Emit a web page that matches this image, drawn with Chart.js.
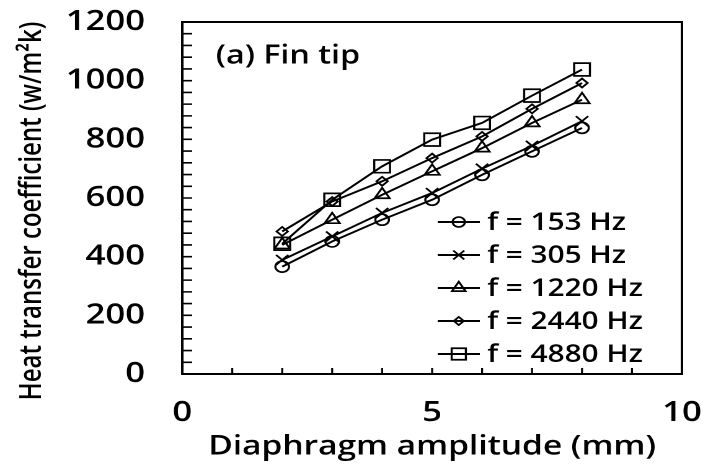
<!DOCTYPE html>
<html>
<head>
<meta charset="utf-8">
<script src="https://cdn.jsdelivr.net/npm/chart.js@4.4.0/dist/chart.umd.min.js"></script>
<style>
  html, body { margin: 0; padding: 0; background: #fff; overflow: hidden; }
  /* the figure is laid out narrow and widened horizontally */
  #wrap { width: 567px; height: 470px; transform: scaleX(1.2399); transform-origin: 0 0; }
</style>
</head>
<body>
<div id="wrap"><canvas id="c" width="567" height="470"></canvas></div>
<script>
// Diaphragm amplitude (mm)
const amplitudes = [2, 3, 4, 5, 6, 7, 8];

// Heat transfer coefficient at the fin tip (W/m²K), one list per driving frequency
const h153  = [366, 452, 526, 594, 679, 759, 839];
const h305  = [389, 469, 549, 617, 700, 778, 862];
const h1220 = [440, 526, 611, 691, 770, 856, 935];
const h2440 = [486, 588, 657, 736, 810, 904, 992];
const h4880 = [444, 594, 708, 799, 856, 949, 1038];

const seriesLabels = ['f = 153 Hz', 'f = 305 Hz', 'f = 1220 Hz', 'f = 2440 Hz', 'f = 4880 Hz'];
const seriesValues = [h153, h305, h1220, h2440, h4880];
const markerStyles = ['circle', 'crossRot', 'triangle', 'rectRot', 'rect'];
const markerSizes  = [5.5, 7, 7, 4.5, 9];

const xTickLabels = [0, 5, 10];
const yTickLabels = [0, 200, 400, 600, 800, 1000, 1200];

const FONT = '"Open Sans", "DejaVu Sans", sans-serif';

const datasets = seriesValues.map((vals, i) => ({
  label: seriesLabels[i],
  data: amplitudes.map((a, k) => ({ x: a, y: vals[k] })),
  borderColor: '#000',
  borderWidth: 1.9,
  pointStyle: markerStyles[i],
  pointRadius: markerSizes[i],
  pointBorderWidth: 1.7,
  pointBorderColor: '#000',
  pointBackgroundColor: 'rgba(0,0,0,0)',
  fill: false,
  tension: 0
}));

// frame, inward tick marks, panel tag, y title and the in-plot legend
const decorations = {
  id: 'decorations',
  afterDraw(chart) {
    const { ctx, chartArea: a, scales: { x, y } } = chart;
    ctx.save();
    ctx.strokeStyle = '#000';
    ctx.lineWidth = 1.6;
    ctx.beginPath();
    x.ticks.forEach(t => {
      const px = x.getPixelForValue(t.value);
      if (px <= a.left + 1 || px >= a.right - 1) return;
      ctx.moveTo(px, a.bottom);
      ctx.lineTo(px, a.bottom - 6);
    });
    y.ticks.forEach(t => {
      const py = y.getPixelForValue(t.value);
      if (py <= a.top + 1 || py >= a.bottom - 1) return;
      ctx.moveTo(a.left, py);
      ctx.lineTo(a.left + 8, py);
    });
    ctx.stroke();

    ctx.lineWidth = 2;
    ctx.strokeRect(a.left, a.top, a.right - a.left, a.bottom - a.top);

    // panel tag
    ctx.fillStyle = '#000';
    ctx.font = '600 26px ' + FONT;
    ctx.textAlign = 'left';
    ctx.textBaseline = 'middle';
    ctx.fillText('(a) Fin tip', a.left + 27, a.top + 34);

    // y axis title
    ctx.save();
    ctx.translate(26, (a.top + a.bottom) / 2 + 13);
    ctx.rotate(-Math.PI / 2);
    ctx.textAlign = 'center';
    ctx.font = '600 24px ' + FONT;
    ctx.fillText('Heat transfer coefficient (w/m\u00B2k)', 0, 0);
    ctx.restore();

    // legend
    const rowGap = 33;
    const firstRow = a.bottom - 20 - rowGap * (chart.data.datasets.length - 1);
    const lineL = 353, lineR = 387, textX = 393;
    chart.data.datasets.forEach((ds, i) => {
      const ry = firstRow + i * rowGap;
      ctx.strokeStyle = '#000';
      ctx.lineWidth = ds.borderWidth;
      ctx.beginPath();
      ctx.moveTo(lineL, ry);
      ctx.lineTo(lineR, ry);
      ctx.stroke();
      ctx.fillStyle = 'rgba(0,0,0,0)';
      ctx.lineWidth = ds.pointBorderWidth;
      Chart.helpers.drawPoint(ctx, {
        pointStyle: ds.pointStyle,
        radius: ds.pointRadius * 0.9,
        borderWidth: ds.pointBorderWidth,
        rotation: 0
      }, (lineL + lineR) / 2, ry);
      ctx.fillStyle = '#000';
      ctx.font = '600 24px ' + FONT;
      ctx.textAlign = 'left';
      ctx.textBaseline = 'middle';
      ctx.fillText(ds.label, textX, ry + 1);
    });
    ctx.restore();
  }
};

new Chart(document.getElementById('c'), {
  type: 'line',
  data: { datasets },
  plugins: [decorations],
  options: {
    responsive: false,
    animation: false,
    devicePixelRatio: 2,
    layout: { padding: { top: 22, right: 17, left: 0, bottom: 0 } },
    plugins: { legend: { display: false }, tooltip: { enabled: false } },
    scales: {
      x: {
        type: 'linear',
        min: 0, max: 10,
        afterFit(s) { s.height = 96; s.paddingLeft = 0; s.paddingRight = 0; },
        grid: { display: false, drawTicks: false },
        border: { display: false },
        ticks: {
          stepSize: 1,
          autoSkip: false,
          maxRotation: 0,
          padding: 22,
          color: '#000',
          font: { family: FONT, size: 28, weight: '600' },
          callback: v => (xTickLabels.includes(v) ? String(v) : '')
        },
        title: {
          display: true,
          text: 'Diaphragm amplitude (mm)',
          color: '#000',
          font: { family: FONT, size: 27, weight: '600' },
          padding: { top: 0, bottom: 7 }
        }
      },
      y: {
        type: 'linear',
        min: 0, max: 1200,
        afterFit(s) { s.width = 147; s.paddingTop = 0; s.paddingBottom = 0; },
        grid: { display: false, drawTicks: false },
        border: { display: false },
        ticks: {
          stepSize: 40,
          autoSkip: false,
          padding: 30,
          color: '#000',
          font: { family: FONT, size: 28, weight: '600' },
          callback: v => (yTickLabels.includes(v) ? String(v) : '')
        }
      }
    }
  }
});
</script>
</body>
</html>
